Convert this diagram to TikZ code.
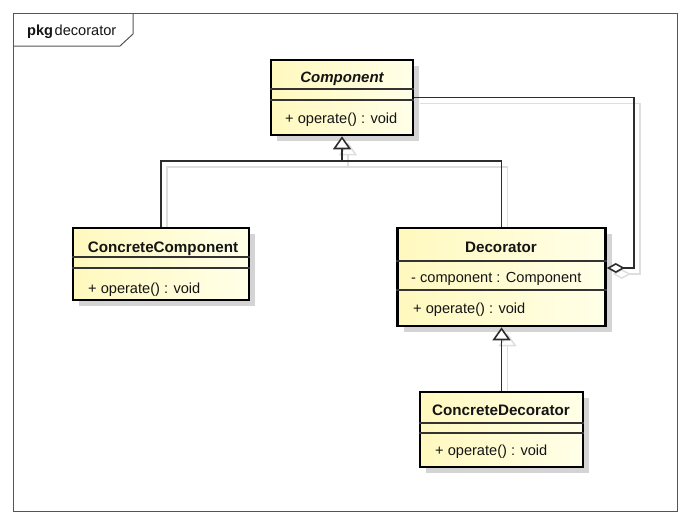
\documentclass[tikz,border=0pt]{standalone}
\usepackage{fontspec}
\setmainfont{Liberation Sans}
\usetikzlibrary{arrows.meta,shadows,calc,backgrounds}
\definecolor{boxL}{RGB}{255,249,190}
\definecolor{boxR}{RGB}{255,255,232}
\definecolor{shad}{RGB}{212,212,212}
\definecolor{lineC}{RGB}{45,45,45}
\definecolor{lineS}{RGB}{222,222,222}
\definecolor{frameC}{RGB}{85,85,85}
\begin{document}
\begin{tikzpicture}[x=1pt,y=-1pt,
  every node/.style={inner sep=0pt},
  txt/.style={font=\fontsize{14.6}{17}\selectfont, text=black!92, text height=10.4pt, text depth=0pt},
  ttl/.style={txt, font=\fontsize{15.2}{17}\selectfont\bfseries},
  mem/.style={txt, anchor=west},
  classbox/.style={draw=black, line width=2.6pt, left color=boxL, right color=boxR,
    general shadow={fill=shad, shadow xshift=6pt, shadow yshift=-6pt}},
  sep/.style={draw=black!80, line width=1.1pt},
  conn/.style={draw=lineC, line width=1.6pt},
  shadowline/.style={draw=lineS, line width=1.5pt},
  gentip/.style={-{Triangle[open,fill=white,length=13pt,width=18pt]}},
  aggtip/.style={{Diamond[open,fill=white,length=18pt,width=10pt]}-},
  frame/.style={draw=frameC, line width=1pt}]
\useasboundingbox (0,0) rectangle (690,517);

% package frame
\draw[frame] (13,13) rectangle (677,511);
\draw[frame] (13,46) -- (120,46) -- (133,34) -- (133,13);
\node[txt, anchor=west] (pkg) at (27,30) {\textbf{pkg}\hspace{1.5pt}decorator};

% class boxes
\node[classbox, minimum width=142pt, minimum height=75pt] (comp) at (342,97.5) {};
\node[classbox, minimum width=176pt, minimum height=72pt] (cc) at (161,264) {};
\node[classbox, minimum width=208pt, minimum height=98pt] (dec) at (501.5,277) {};
\node[classbox, minimum width=163pt, minimum height=75pt] (cd) at (501.5,429.5) {};

% separators
\draw[sep] (comp.west |- 0,89) -- (comp.east |- 0,89);
\draw[sep] (comp.west |- 0,100) -- (comp.east |- 0,100);
\draw[sep] (cc.west |- 0,257) -- (cc.east |- 0,257);
\draw[sep] (cc.west |- 0,268) -- (cc.east |- 0,268);
\draw[sep] (dec.west |- 0,261) -- (dec.east |- 0,261);
\draw[sep] (dec.west |- 0,290) -- (dec.east |- 0,290);
\draw[sep] (cd.west |- 0,423) -- (cd.east |- 0,423);
\draw[sep] (cd.west |- 0,433) -- (cd.east |- 0,433);

% texts
\node[ttl, font=\fontsize{15}{17}\selectfont\bfseries\itshape] (compT) at (342,77) {Component};
\node[mem] (compO) at (285,118) {+ operate() : void};
\node[ttl] (ccT) at (163,247) {ConcreteComponent};
\node[mem] (ccO) at (88,288) {+ operate() : void};
\node[ttl] (decT) at (501,247) {Decorator};
\node[mem] (decA) at (411,277) {- component : Component};
\node[mem] (decO) at (413,308) {+ operate() : void};
\node[ttl] (cdT) at (501,410) {ConcreteDecorator};
\node[mem] (cdO) at (435,450) {+ operate() : void};

% helper coordinates
\coordinate (jy) at (0,161);
\coordinate (ax) at (634,0);
\coordinate (j) at (comp.south |- jy);
\coordinate (dd) at ([yshift=9pt]dec.east);

% connector shadows
\begin{pgfonlayer}{background}
\begin{scope}[transform canvas={xshift=6pt,yshift=-6pt}]
\draw[shadowline] (cc.north) |- (j) -| (dec.north);
\draw[shadowline, gentip] (j) -- (comp.south);
\draw[shadowline, gentip] (cd.north) -- (dec.south);
\draw[shadowline, aggtip] (dd) -| (ax |- comp.east) -- (comp.east);
\end{scope}
\end{pgfonlayer}

% connectors
\draw[conn] (cc.north) |- (j) -| (dec.north);
\draw[conn, gentip] (j) -- (comp.south);
\draw[conn, gentip] (cd.north) -- (dec.south);
\draw[conn, aggtip] (dd) -| (ax |- comp.east) -- (comp.east);
\end{tikzpicture}
\end{document}
